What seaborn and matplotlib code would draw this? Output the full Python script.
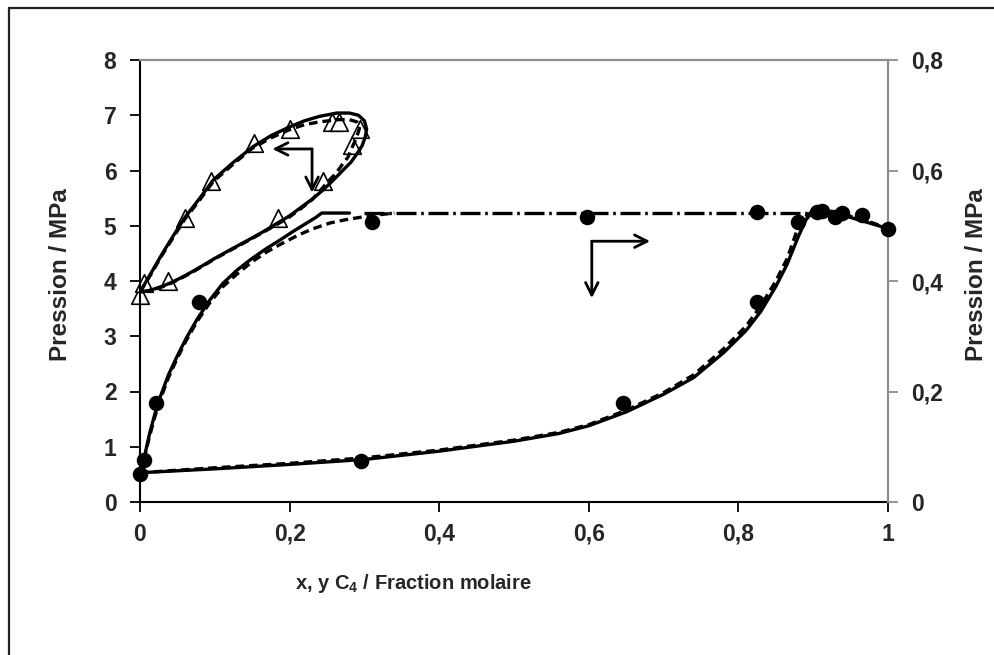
import matplotlib
matplotlib.use("Agg")
import matplotlib.pyplot as plt
import seaborn as sns
from matplotlib.ticker import FuncFormatter, FixedLocator
from matplotlib.lines import Line2D

# ---------------- data ----------------
# Triangles -- left axis (MPa)
tri_x = [0.0, 0.005, 0.037, 0.06, 0.095, 0.152, 0.184, 0.2, 0.245, 0.257, 0.266, 0.283, 0.294]
tri_p = [3.75, 3.96, 4.0, 5.14, 5.81, 6.5, 5.14, 6.75, 5.81, 6.88, 6.88, 6.46, 6.75]

# Solid model loop (left axis)
loop_sol_x = [0.0, 0.015, 0.03, 0.045, 0.06, 0.08, 0.098, 0.125, 0.151, 0.175, 0.2, 0.22,
              0.24, 0.263, 0.28, 0.292, 0.3, 0.303, 0.301, 0.297, 0.29, 0.282, 0.271, 0.258,
              0.245, 0.23, 0.215, 0.2, 0.184, 0.167, 0.15, 0.135, 0.12, 0.1, 0.084, 0.07,
              0.055, 0.043, 0.031, 0.02, 0.01, 0.0]
loop_sol_p = [3.8, 4.15, 4.5, 4.83, 5.15, 5.5, 5.83, 6.15, 6.43, 6.63, 6.79, 6.9,
              6.98, 7.04, 7.04, 7.0, 6.9, 6.75, 6.6, 6.45, 6.3, 6.15, 6.0, 5.82,
              5.65, 5.48, 5.33, 5.18, 5.05, 4.91, 4.78, 4.67, 4.56, 4.41, 4.28, 4.17,
              4.06, 3.98, 3.91, 3.86, 3.82, 3.8]

# Dashed model loop (left axis)
loop_das_x = [0.0, 0.015, 0.03, 0.045, 0.06, 0.08, 0.098, 0.125, 0.15, 0.175, 0.2, 0.22,
              0.24, 0.265, 0.28, 0.29, 0.294, 0.292, 0.288, 0.283, 0.278, 0.27, 0.262, 0.25,
              0.24, 0.23, 0.215, 0.2, 0.184, 0.167, 0.15, 0.135, 0.12, 0.1, 0.084, 0.07,
              0.055, 0.043, 0.031, 0.02, 0.01, 0.0]
loop_das_p = [3.8, 4.13, 4.48, 4.8, 5.12, 5.47, 5.8, 6.12, 6.4, 6.59, 6.74, 6.83,
              6.88, 6.92, 6.92, 6.88, 6.8, 6.7, 6.55, 6.4, 6.24, 6.1, 5.95, 5.78,
              5.62, 5.47, 5.31, 5.16, 5.03, 4.9, 4.77, 4.66, 4.55, 4.4, 4.27, 4.16,
              4.05, 3.97, 3.9, 3.85, 3.82, 3.8]

# Circles -- right axis (MPa)
circ_x = [0.0, 0.005, 0.022, 0.079, 0.295, 0.31, 0.598, 0.646, 0.825, 0.825,
          0.88, 0.905, 0.912, 0.929, 0.938, 0.965, 1.0]
circ_p = [0.051, 0.076, 0.18, 0.362, 0.074, 0.507, 0.516, 0.18, 0.362, 0.525,
          0.507, 0.525, 0.527, 0.516, 0.523, 0.519, 0.495]

# Solid model (right axis): upper branch, and lower branch with end section
up_sol_x = [0.0, 0.004, 0.008, 0.013, 0.02, 0.027, 0.038, 0.049, 0.062, 0.076, 0.093,
            0.111, 0.13, 0.147, 0.167, 0.187, 0.205, 0.223, 0.235, 0.243, 0.28]
up_sol_p = [0.053, 0.063, 0.095, 0.125, 0.16, 0.19, 0.23, 0.262, 0.297, 0.33, 0.365,
            0.396, 0.42, 0.438, 0.457, 0.474, 0.49, 0.505, 0.515, 0.523, 0.523]
lo_sol_x = [0.0, 0.1, 0.2, 0.3, 0.4, 0.5, 0.56, 0.6, 0.65, 0.7, 0.74, 0.78, 0.81, 0.83,
            0.85, 0.865, 0.88, 0.89, 0.9, 0.92, 0.95, 0.98, 1.0]
lo_sol_p = [0.053, 0.06, 0.068, 0.077, 0.092, 0.11, 0.124, 0.138, 0.163, 0.195, 0.225,
            0.27, 0.31, 0.345, 0.39, 0.43, 0.48, 0.51, 0.527, 0.527, 0.515, 0.503, 0.495]

# Dashed model (right axis)
up_das_x = [0.0, 0.004, 0.008, 0.013, 0.02, 0.027, 0.038, 0.049, 0.062, 0.076, 0.093,
            0.111, 0.13, 0.15, 0.17, 0.19, 0.21, 0.23, 0.254, 0.275, 0.298, 0.32, 0.34]
up_das_p = [0.053, 0.063, 0.093, 0.12, 0.155, 0.185, 0.225, 0.258, 0.293, 0.326, 0.36,
            0.39, 0.413, 0.435, 0.453, 0.468, 0.482, 0.494, 0.505, 0.511, 0.516, 0.52, 0.523]
lo_das_x = [0.0, 0.1, 0.2, 0.3, 0.4, 0.5, 0.56, 0.6, 0.65, 0.7, 0.74, 0.78, 0.81, 0.83,
            0.85, 0.865, 0.878, 0.888, 0.9, 0.92, 0.95, 0.98, 1.0]
lo_das_p = [0.053, 0.062, 0.07, 0.08, 0.094, 0.112, 0.126, 0.14, 0.166, 0.198, 0.23,
            0.277, 0.318, 0.355, 0.4, 0.44, 0.49, 0.515, 0.527, 0.528, 0.517, 0.505, 0.495]

# Dash-dot plateau (right axis)
plat_x = [0.30, 0.90]
plat_p = [0.523, 0.523]

left_ticks = [0, 1, 2, 3, 4, 5, 6, 7, 8]
right_ticks = [0, 0.2, 0.4, 0.6, 0.8]
x_ticks = [0, 0.2, 0.4, 0.6, 0.8, 1.0]

# ---------------- style ----------------
sns.set_style("white")
plt.rcParams["font.family"] = ["Liberation Sans", "DejaVu Sans"]
plt.rcParams["font.weight"] = "bold"
plt.rcParams["mathtext.fontset"] = "custom"
plt.rcParams["mathtext.rm"] = "Liberation Sans:bold"
plt.rcParams["mathtext.bf"] = "Liberation Sans:bold"
plt.rcParams["mathtext.default"] = "bf"

fig = plt.figure(figsize=(9.94, 6.55), dpi=100)
ax = fig.add_axes([140 / 994, 1 - 502 / 655, 748 / 994, 442 / 655])
ax2 = ax.twinx()

LW = 2.4
GRAY = "#8c8c8c"
DASH = (0, (2.6, 1.5))

# triangles + loops on left axis
sns.scatterplot(x=tri_x, y=tri_p, ax=ax, marker="^", s=160, color="white",
                edgecolor="black", linewidth=1.2, zorder=2, clip_on=False)
sns.lineplot(x=loop_sol_x, y=loop_sol_p, ax=ax, sort=False, estimator=None,
             color="black", lw=LW, zorder=3)
sns.lineplot(x=loop_das_x, y=loop_das_p, ax=ax, sort=False, estimator=None,
             color="black", lw=LW, linestyle=DASH, zorder=3)

# circles + curves on right axis
for xs, ps in [(up_sol_x, up_sol_p), (lo_sol_x, lo_sol_p)]:
    sns.lineplot(x=xs, y=ps, ax=ax2, sort=False, estimator=None, color="black", lw=LW)
for xs, ps in [(up_das_x, up_das_p), (lo_das_x, lo_das_p)]:
    sns.lineplot(x=xs, y=ps, ax=ax2, sort=False, estimator=None, color="black", lw=LW,
                 linestyle=DASH)
sns.lineplot(x=plat_x, y=plat_p, ax=ax2, sort=False, estimator=None, color="black", lw=LW,
             linestyle=(0, (6, 1.4, 0.8, 1.4)))
sns.scatterplot(x=circ_x, y=circ_p, ax=ax2, marker="o", s=125, color="black",
                edgecolor="black", linewidth=0, zorder=4, clip_on=False)

# arrows
arw = dict(arrowstyle="->,head_length=0.9,head_width=0.45", color="black", lw=2.0,
           shrinkA=0, shrinkB=0)
ax.annotate("", xy=(0.177, 6.39), xytext=(0.23, 6.39), arrowprops=arw)
ax.annotate("", xy=(0.23, 5.6), xytext=(0.23, 6.39), arrowprops=arw)
ax2.annotate("", xy=(0.682, 0.472), xytext=(0.604, 0.472), arrowprops=arw)
ax2.annotate("", xy=(0.604, 0.369), xytext=(0.604, 0.472), arrowprops=arw)

# axes limits, ticks
ax.set_xlim(0, 1)
ax.set_ylim(0, 8)
ax2.set_ylim(0, 0.8)
comma = FuncFormatter(lambda v, p: (f"{v:g}").replace(".", ","))
ax.xaxis.set_major_locator(FixedLocator(x_ticks))
ax.yaxis.set_major_locator(FixedLocator(left_ticks))
ax2.yaxis.set_major_locator(FixedLocator(right_ticks))
ax.xaxis.set_major_formatter(comma)
ax.yaxis.set_major_formatter(comma)
ax2.yaxis.set_major_formatter(comma)

TS = 16.5
ax.tick_params(axis="y", direction="out", length=7, width=1.3, color="black",
               labelsize=TS, pad=10, left=True)
ax.tick_params(axis="x", direction="out", length=7, width=1.3, color="black",
               labelsize=TS, pad=8, bottom=True)
ax2.tick_params(axis="y", direction="out", length=7, width=1.3, color=GRAY,
                labelsize=TS, pad=10, right=True)
for lab in ax.get_xticklabels() + ax.get_yticklabels() + ax2.get_yticklabels():
    lab.set_fontweight("bold")

for a in (ax, ax2):
    for s in a.spines.values():
        s.set_linewidth(1.5)
ax.spines["left"].set_color("black")
ax.spines["bottom"].set_color("black")
ax.spines["top"].set_color(GRAY)
ax.spines["right"].set_color(GRAY)
ax2.spines["left"].set_visible(False)
ax2.spines["bottom"].set_visible(False)
ax2.spines["top"].set_color(GRAY)
ax2.spines["right"].set_color(GRAY)
ax.set_facecolor("none")

ax.set_ylabel("Pression / MPa", fontsize=17.5, fontweight="bold")
ax.yaxis.set_label_coords(-0.091, 0.514)
ax2.set_ylabel("Pression / MPa", fontsize=17.5, fontweight="bold", rotation=90)
ax2.yaxis.set_label_coords(1.103, 0.514)
ax.set_xlabel(r"x, y C$_{4}$ / Fraction molaire", fontsize=14.5, fontweight="bold")
ax.xaxis.set_label_coords(0.365, -0.158)

# outer frame (partial, as in the reference)
fig.add_artist(Line2D([9 / 994, 9 / 994], [0, 1 - 8 / 655], transform=fig.transFigure,
                      color="#222222", lw=1.6))
fig.add_artist(Line2D([9 / 994, 1], [1 - 8 / 655, 1 - 8 / 655], transform=fig.transFigure,
                      color="#222222", lw=1.6))

fig.savefig("out.png", dpi=100)
